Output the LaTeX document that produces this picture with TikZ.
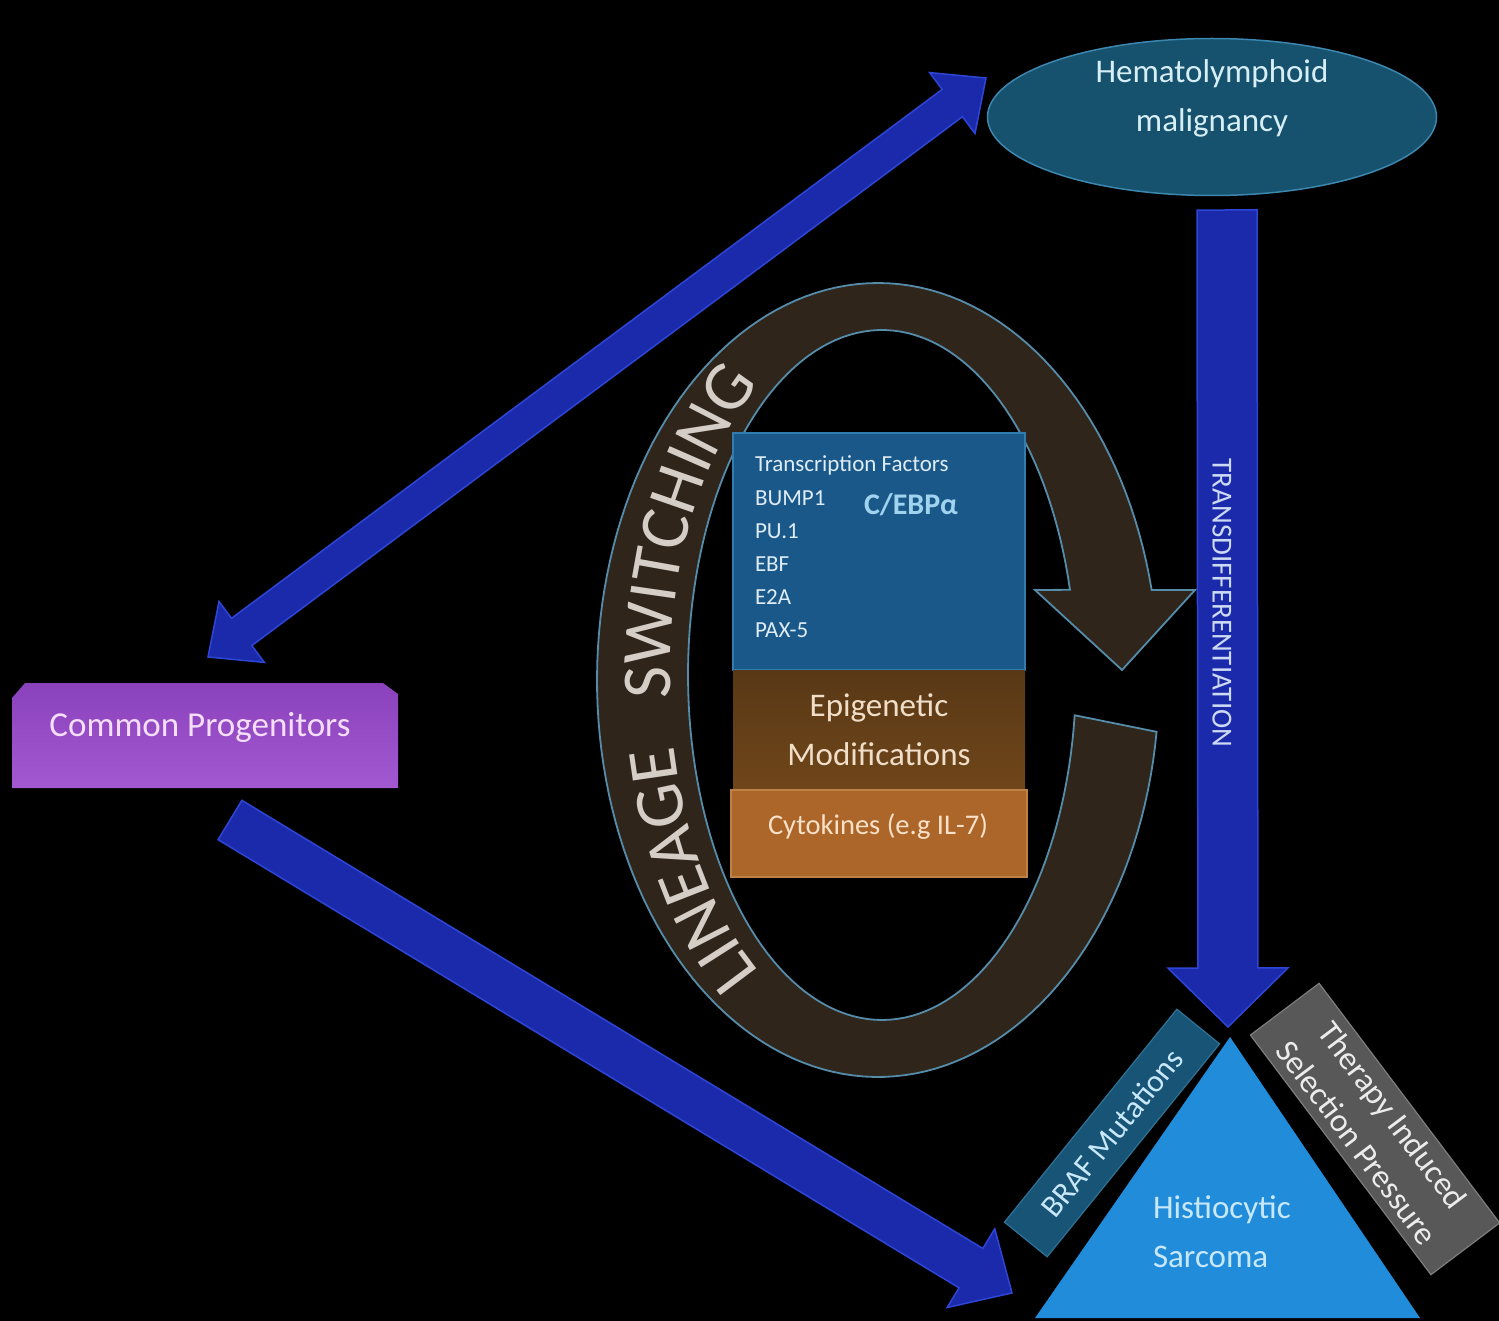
\documentclass[tikz,border=0pt]{standalone}
\usepackage{fontspec}
\setmainfont{Carlito}
\usetikzlibrary{calc,shapes.geometric,decorations.text}

\definecolor{arrowblue}{RGB}{27,42,170}
\definecolor{arrowedge}{RGB}{45,70,215}
\definecolor{ellfill}{RGB}{22,82,110}
\definecolor{elledge}{RGB}{60,135,175}
\definecolor{elltext}{RGB}{215,238,245}
\definecolor{purptop}{RGB}{138,66,188}
\definecolor{purpbot}{RGB}{162,88,208}
\definecolor{purptext}{RGB}{245,222,250}
\definecolor{tfblue}{RGB}{27,88,138}
\definecolor{tfedge}{RGB}{50,125,175}
\definecolor{tftext}{RGB}{222,236,246}
\definecolor{cebp}{RGB}{160,212,238}
\definecolor{epitop}{RGB}{88,56,22}
\definecolor{epibot}{RGB}{112,70,26}
\definecolor{epitext}{RGB}{240,222,200}
\definecolor{cytofill}{RGB}{172,102,42}
\definecolor{cytoedge}{RGB}{190,130,70}
\definecolor{cytotext}{RGB}{248,225,200}
\definecolor{ringfill}{RGB}{47,37,27}
\definecolor{ringedge}{RGB}{85,140,170}
\definecolor{ringtext}{RGB}{212,206,198}
\definecolor{trifill}{RGB}{32,140,218}
\definecolor{tritext}{RGB}{200,232,250}
\definecolor{braffill}{RGB}{24,84,118}
\definecolor{brafedge}{RGB}{45,115,150}
\definecolor{greyfill}{RGB}{88,88,88}
\definecolor{greyedge}{RGB}{125,125,125}
\definecolor{greytext}{RGB}{236,236,236}
\definecolor{tdtext}{RGB}{205,218,245}

% double-headed block arrow: style, tipA, tipB, shaft half width, head half width, head length
\newcommand\dblarrow[6]{%
  \path ($(#2)!#6!(#3)$) coordinate (ba1) ($(#3)!#6!(#2)$) coordinate (ba2);
  \draw[#1] (#2) -- ($(ba1)!#5!90:(#2)$) -- ($(ba1)!#4!90:(#2)$)
    -- ($(ba2)!#4!-90:(#3)$) -- ($(ba2)!#5!-90:(#3)$) -- (#3)
    -- ($(ba2)!#5!90:(#3)$) -- ($(ba2)!#4!90:(#3)$)
    -- ($(ba1)!#4!-90:(#2)$) -- ($(ba1)!#5!-90:(#2)$) -- cycle;}
% single-headed block arrow: style, tail, tip, shaft half width, head half width, head length
\newcommand\sglarrow[6]{%
  \path ($(#3)!#6!(#2)$) coordinate (ba2);
  \draw[#1] ($(#2)!#4!-90:(#3)$) -- ($(ba2)!#4!-90:(#3)$) -- ($(ba2)!#5!-90:(#3)$)
    -- (#3) -- ($(ba2)!#5!90:(#3)$) -- ($(ba2)!#4!90:(#3)$) -- ($(#2)!#4!90:(#3)$) -- cycle;}

\begin{document}
\begin{tikzpicture}[x=1pt,y=-1pt,
  bluearrow/.style={fill=arrowblue, draw=arrowedge, line width=1.5pt, line join=miter},
  ringstyle/.style={fill=ringfill, draw=ringedge, line width=1.8pt},
  txt/.style={inner sep=0pt, outer sep=0pt},
  boxbase/.style={rectangle, inner sep=0pt, outer sep=0pt, line width=1.2pt}]

\fill[black] (0,0) rectangle (1499,1321);
\useasboundingbox (0,0) rectangle (1499,1321);

% ---------- lineage switching ring ----------
\draw[ringstyle] plot[domain=7.5:346.9,samples=160] ({878+281*cos(\x)},{680+397*sin(\x)})
  -- (1195,590) -- (1122,670) -- (1035,590)
  -- plot[domain=6.7:345.7,samples=160] ({882+194*cos(352.4-\x)},{675+345*sin(352.4-\x)}) -- cycle;
\path[decorate, decoration={text along path, text align=center,
  text={|\fontsize{70}{70}\selectfont\color{ringtext}|LINEAGE{ }{ }{ }SWITCHING}}]
  plot[domain=112:248,samples=90] ({880+210*cos(\x)},{678+358*sin(\x)});

% ---------- block arrows ----------
\coordinate (upA) at (208,657);
\coordinate (upB) at (986,78);
\dblarrow{bluearrow}{upA}{upB}{17pt}{38pt}{42pt}
\coordinate (loA) at (230,820);
\coordinate (loB) at (1012,1293);
\sglarrow{bluearrow}{loA}{loB}{23pt}{46pt}{48pt}
\coordinate (tdA) at (1227,210);
\coordinate (tdB) at (1228,1027);
\sglarrow{bluearrow}{tdA}{tdB}{30pt}{60pt}{59pt}
\node[txt, rotate=-90, font=\fontsize{29}{30}\selectfont, text=tdtext] (tdl) at (1222,603) {TRANSDIFFERENTIATION};

% ---------- hematolymphoid malignancy ----------
\node[ellipse, minimum width=449pt, minimum height=157pt, fill=ellfill, draw=elledge, line width=1.5pt] (hm) at (1212,117) {};
\node[txt, align=center, font=\fontsize{33}{49}\selectfont, text=elltext] (hmtext) at (1212,98) {Hematolymphoid\\malignancy};

% ---------- common progenitors ----------
\fill[top color=purptop, bottom color=purpbot] (12,698) -- (25,683) -- (383,683) -- (398,694) -- (398,788) -- (12,788) -- cycle;
\node[txt, font=\fontsize{35}{40}\selectfont, text=purptext] (cp) at (200,727) {Common Progenitors};

% ---------- central stack ----------
\node[boxbase, minimum width=292pt, minimum height=237pt, fill=tfblue, draw=tfedge] (tf) at (879,551.5) {};
\node[txt, anchor=north west, align=left, font=\fontsize{23}{33.2}\selectfont, text=tftext] (tflist) at (755,456) {Transcription Factors\\BUMP1\\PU.1\\EBF\\E2A\\PAX-5};
\node[txt, anchor=west, font=\bfseries\fontsize{30}{30}\selectfont, text=cebp] (cebpa) at (864,505) {C/EBPα};
\node[boxbase, minimum width=292pt, minimum height=120pt, top color=epitop, bottom color=epibot, align=center,
  font=\fontsize{33}{49}\selectfont, text=epitext] (epi) at (879,730) {Epigenetic\\Modifications};
\node[boxbase, minimum width=296pt, minimum height=87pt, fill=cytofill, draw=cytoedge] (cyto) at (879,833.5) {};
\node[txt, font=\fontsize{28.5}{30}\selectfont, text=cytotext] (cytotxt) at (878,827) {Cytokines (e.g IL-7)};

% ---------- histiocytic sarcoma ----------
\fill[trifill] (1230,1037) coordinate (hsapex) -- (1420,1318) coordinate (hsright) -- (1035,1318) coordinate (hsleft) -- cycle;
\node[txt, anchor=west, align=left, font=\fontsize{33}{49}\selectfont, text=tritext] (hs) at (1153,1232) {Histiocytic\\Sarcoma};
\node[boxbase, rotate=51, minimum width=274pt, minimum height=55pt, fill=braffill, draw=brafedge,
  font=\fontsize{31.5}{32}\selectfont, text=tritext] (braf) at (1112,1133) {BRAF Mutations};
\node[boxbase, rotate=-53, minimum width=300pt, minimum height=86pt, fill=greyfill, draw=greyedge, align=center,
  font=\fontsize{33}{45}\selectfont, text=greytext] (tisp) at (1375,1129) {Therapy Induced\\Selection Pressure};
\end{tikzpicture}
\end{document}
